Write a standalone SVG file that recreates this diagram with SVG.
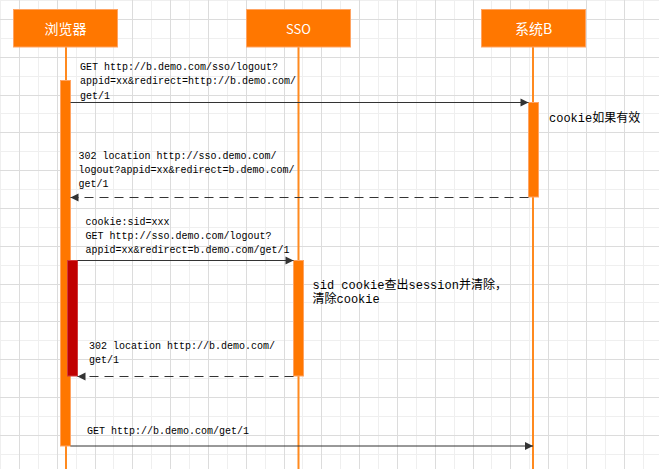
<svg xmlns="http://www.w3.org/2000/svg" width="659" height="469" viewBox="0 0 659 469">
<style>
.gl{stroke:#efefef;stroke-width:1;fill:none}
.gd{stroke:#dcdcdc;stroke-width:1;fill:none}
.head{fill:#ff7700;stroke:#ffa463;stroke-width:1}
.act{fill:#ff7700;stroke:#ffa463;stroke-width:1}
.life{stroke:#ff8a1f;stroke-width:2;fill:none}
.title{font-family:"Noto Sans CJK SC","Liberation Sans",sans-serif;font-size:14px;fill:#ffffff;text-anchor:middle}
.lbl{font-family:"Liberation Mono","Noto Sans CJK SC",monospace;font-size:10px;fill:#000000}
.note{font-family:"Liberation Mono","Noto Sans CJK SC",monospace;font-size:12px;fill:#000000}
.msg{stroke:#333333;stroke-width:1;fill:none}
.ret{stroke:#333333;stroke-width:1;fill:none;stroke-dasharray:9 6}
</style>
<defs>
<marker id="arr" markerUnits="userSpaceOnUse" markerWidth="10" markerHeight="10" viewBox="0 0 10 10" refX="9" refY="5" orient="auto">
<path d="M1,1 L9,5 L1,9 Z" fill="#333333"/>
</marker>
</defs>
<rect width="659" height="469" fill="#ffffff"/>
<g id="grid">
<path class="gl" d="M0.5,0V469M38.5,0V469M76.5,0V469M113.5,0V469M151.5,0V469M189.5,0V469M227.5,0V469M265.5,0V469M302.5,0V469M340.5,0V469M378.5,0V469M416.5,0V469M454.5,0V469M491.5,0V469M529.5,0V469M567.5,0V469M605.5,0V469M643.5,0V469M0,0.5H659M0,38.5H659M0,76.5H659M0,113.5H659M0,151.5H659M0,189.5H659M0,227.5H659M0,265.5H659M0,302.5H659M0,340.5H659M0,378.5H659M0,416.5H659M0,454.5H659"/>
<path class="gd" d="M19.5,0V469M57.5,0V469M95.5,0V469M132.5,0V469M170.5,0V469M208.5,0V469M246.5,0V469M284.5,0V469M321.5,0V469M359.5,0V469M397.5,0V469M435.5,0V469M473.5,0V469M510.5,0V469M548.5,0V469M586.5,0V469M624.5,0V469M0,19.5H659M0,57.5H659M0,95.5H659M0,132.5H659M0,170.5H659M0,208.5H659M0,246.5H659M0,284.5H659M0,321.5H659M0,359.5H659M0,397.5H659M0,435.5H659"/>
</g>
<g id="browser">
<line class="life" x1="66" y1="47" x2="66" y2="469"/>
<rect class="head" x="13.5" y="9.5" width="104" height="37.5"/>
<text class="title" x="65.5" y="34">浏览器</text>
<rect class="act" x="60.5" y="80.5" width="10" height="365.5"/>
<rect x="67.5" y="260.5" width="10" height="115.5" fill="#c00000" stroke="#d23a3a" stroke-width="1"/>
</g>
<g id="sso">
<line class="life" x1="298.5" y1="47" x2="298.5" y2="469"/>
<rect class="head" x="246.5" y="9.5" width="104" height="37.5"/>
<text class="title" x="298.5" y="33.5" style="font-size:13px">SSO</text>
<rect class="act" x="293.5" y="260.5" width="10" height="115.5"/>
</g>
<g id="systemB">
<line class="life" x1="533" y1="47" x2="533" y2="469"/>
<rect class="head" x="481.5" y="9.5" width="104" height="37.5"/>
<text class="title" x="533.5" y="34">系统B</text>
<rect class="act" x="528.5" y="102.5" width="10" height="94.5"/>
</g>
<g id="connectors">
<line class="msg" x1="70.5" y1="102.5" x2="528.5" y2="102.5" marker-end="url(#arr)"/>
<line class="ret" x1="528.5" y1="197.5" x2="70.5" y2="197.5" marker-end="url(#arr)"/>
<line class="msg" x1="77.5" y1="260.5" x2="293.5" y2="260.5" marker-end="url(#arr)"/>
<line class="ret" x1="293.5" y1="376.5" x2="77.5" y2="376.5" marker-end="url(#arr)"/>
<line class="msg" x1="70.5" y1="446" x2="533" y2="446" marker-end="url(#arr)" stroke="#555555"/>
</g>
<g id="labels">
<text class="lbl" x="80" y="69.5">GET http://b.demo.com/sso/logout?</text>
<text class="lbl" x="80" y="84">appid=xx&amp;redirect=http://b.demo.com/</text>
<text class="lbl" x="80" y="98.5">get/1</text>
<text class="note" x="549" y="122">cookie如果有效</text>
<text class="lbl" x="78.5" y="158.5">302 location http://sso.demo.com/</text>
<text class="lbl" x="78.5" y="172.5">logout?appid=xx&amp;redirect=b.demo.com/</text>
<text class="lbl" x="78.5" y="187">get/1</text>
<text class="lbl" x="85.5" y="225">cookie:sid=xxx</text>
<text class="lbl" x="85.5" y="239">GET http://sso.demo.com/logout?</text>
<text class="lbl" x="85.5" y="253">appid=xx&amp;redirect=b.demo.com/get/1</text>
<text class="note" x="312.5" y="288.5">sid cookie查出session并清除，</text>
<text class="note" x="312.5" y="303">清除cookie</text>
<text class="lbl" x="89" y="348.5">302 location http://b.demo.com/</text>
<text class="lbl" x="89" y="363">get/1</text>
<text class="lbl" x="87" y="433.5">GET http://b.demo.com/get/1</text>
</g>
</svg>
